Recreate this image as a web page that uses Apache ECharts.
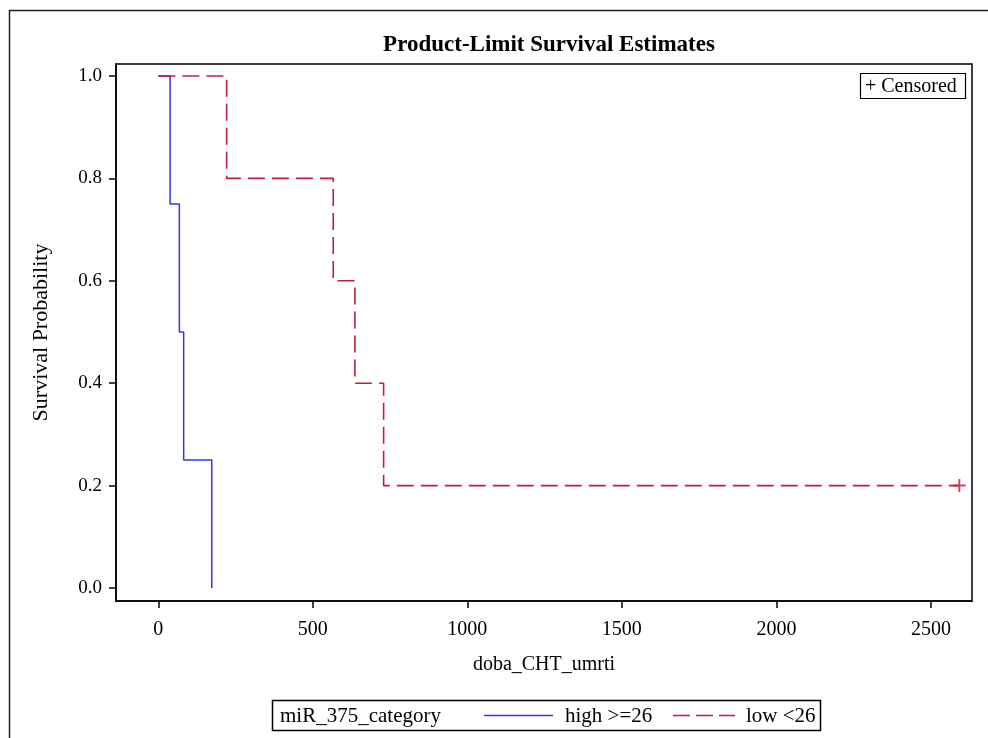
<!DOCTYPE html>
<html>
<head>
<meta charset="utf-8">
<script src="https://cdn.jsdelivr.net/npm/echarts@6/dist/echarts.min.js"></script>
<style>
html,body{margin:0;padding:0;background:#fff;}
#main{width:988px;height:738px;}
</style>
</head>
<body>
<div id="main"></div>
<script>
// Data
const seriesNames = ['high >=26', 'low <26'];
const highTimes = [0, 38, 68, 82, 173];
const highSurv  = [1.0, 0.75, 0.5, 0.25, 0.0];
const lowTimes  = [0, 221, 566, 636, 729, 2592];
const lowSurv   = [1.0, 0.8, 0.6, 0.4, 0.2, 0.2];
const censorTimes = [2592];
const censorSurv  = [0.2];
const xTicks = [0, 500, 1000, 1500, 2000, 2500];
const yTicks = [0.0, 0.2, 0.4, 0.6, 0.8, 1.0];

const FONT = '"Liberation Serif", "Times New Roman", serif';
const BLUE = '#3434f0';
const RED = '#c01e3c';

const zip = (a, b) => a.map((v, i) => [v, b[i]]);

const chart = echarts.init(document.getElementById('main'), null, {renderer: 'canvas'});
chart.setOption({
  backgroundColor: '#fff',
  animation: false,
  title: {
    text: 'Product-Limit Survival Estimates',
    left: 544, top: 29, textAlign: 'center',
    textStyle: {fontFamily: FONT, fontWeight: 'bold', fontSize: 23, color: '#000'}
  },
  grid: {left: 116, top: 64, right: 16, bottom: 137, show: true, borderColor: '#000', borderWidth: 1.5, containLabel: false},
  xAxis: {
    type: 'value', min: -137, max: 2633,
    name: 'doba_CHT_umrti', nameLocation: 'middle', nameGap: 54,
    nameTextStyle: {fontFamily: FONT, fontSize: 20, color: '#000'},
    axisLine: {show: true, onZero: false, lineStyle: {color: '#000', width: 1.5}},
    axisTick: {show: true, customValues: xTicks, length: 7, lineStyle: {color: '#000', width: 1.5}},
    axisLabel: {customValues: xTicks, margin: 19, fontFamily: FONT, fontSize: 20, color: '#000',
      formatter: v => String(v)},
    splitLine: {show: false}
  },
  yAxis: {
    type: 'value', min: -0.0254, max: 1.0234,
    name: 'Survival Probability', nameLocation: 'middle', nameGap: 64,
    nameTextStyle: {fontFamily: FONT, fontSize: 22, color: '#000'},
    axisLine: {show: true, onZero: false, lineStyle: {color: '#000', width: 1.5}},
    axisTick: {show: true, customValues: yTicks, length: 7, lineStyle: {color: '#000', width: 1.5}},
    axisLabel: {customValues: yTicks, margin: 14, fontFamily: FONT, fontSize: 19, color: '#000',
      formatter: v => v.toFixed(1)},
    splitLine: {show: false}
  },
  series: [
    {
      name: seriesNames[0], type: 'line', step: 'end', showSymbol: false,
      data: zip(highTimes, highSurv),
      lineStyle: {color: BLUE, width: 1.5}, z: 2
    },
    {
      name: seriesNames[1], type: 'line', step: 'end', showSymbol: false,
      data: zip(lowTimes, lowSurv),
      lineStyle: {color: RED, width: 1.6, type: [17, 7]}, z: 3
    },
    {
      name: 'Censored', type: 'scatter',
      data: zip(censorTimes, censorSurv),
      symbol: 'path://M5.5,0h2v5.5h5.5v2h-5.5v5.5h-2v-5.5h-5.5v-2h5.5z',
      symbolSize: 13, itemStyle: {color: RED}, z: 4
    }
  ],
  graphic: [
    // outer frame
    {type: 'polyline', shape: {points: [[9.5, 738], [9.5, 10.5], [988, 10.5]]}, style: {stroke: '#222', lineWidth: 1.5, fill: null}},
    // censored inset legend
    {type: 'rect', shape: {x: 860.5, y: 73.5, width: 105, height: 25}, style: {stroke: '#000', lineWidth: 1.2, fill: '#fff'}},
    {type: 'text', x: 865, y: 86.5, style: {text: '+ Censored', font: '20px ' + FONT, fill: '#000', verticalAlign: 'middle'}},
    // bottom legend
    {type: 'rect', shape: {x: 272.5, y: 700.5, width: 548, height: 30}, style: {stroke: '#000', lineWidth: 1.5, fill: '#fff'}},
    {type: 'text', x: 280, y: 716, style: {text: 'miR_375_category', font: '21px ' + FONT, fill: '#000', verticalAlign: 'middle'}},
    {type: 'line', shape: {x1: 484, y1: 715.5, x2: 553, y2: 715.5}, style: {stroke: BLUE, lineWidth: 1.5}},
    {type: 'text', x: 565, y: 716, style: {text: seriesNames[0], font: '21px ' + FONT, fill: '#000', verticalAlign: 'middle'}},
    {type: 'line', shape: {x1: 673, y1: 715.5, x2: 735, y2: 715.5}, style: {stroke: RED, lineWidth: 1.6, lineDash: [17, 6]}},
    {type: 'text', x: 746, y: 716, style: {text: seriesNames[1], font: '21px ' + FONT, fill: '#000', verticalAlign: 'middle'}}
  ]
});
</script>
</body>
</html>
